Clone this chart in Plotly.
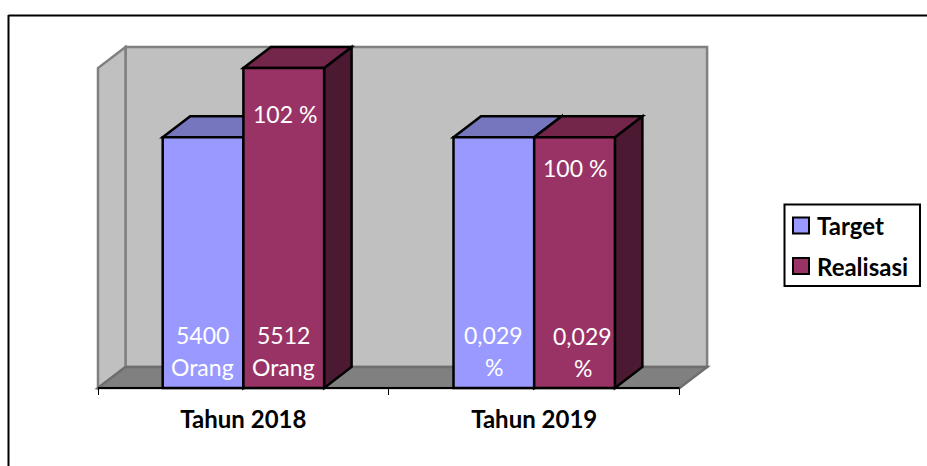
import plotly.graph_objects as go

W, H = 927, 466
categories = ["Tahun 2018", "Tahun 2019"]
series_names = ["Target", "Realisasi"]
target_values = [94, 94]
realisasi_values = [120, 94]
target_labels = [["5400", "Orang"], ["0,029", "%"]]
realisasi_labels = [["5512", "Orang"], ["0,029", "%"]]
percent_labels = ["102 %", "100 %"]
percent_label_y = [102.6, 82.4]

C_T, C_R = "#9999FF", "#993366"
C_T_TOP, C_R_TOP = "#7676BF", "#732649"
C_T_SIDE, C_R_SIDE = "#5C5C99", "#4C1933"
C_WALL, C_FLOOR, C_EDGE = "#C0C0C0", "#808080", "#808080"
FONT = "Lato"

# pixel scale of the chart box
PX_X0, PX_X1 = 98, 679.6
PX_Y0, PX_YMAX = 388, 68
YMAX = 120
ux = (PX_X1 - PX_X0) / len(categories)
uy = (PX_Y0 - PX_YMAX) / YMAX
DX, DY = 27.5 / ux, 21 / uy
BAR_W = 80.7 / ux
PAD = 5

x_range = [-0.5 - PAD / ux, 1.5 + DX + PAD / ux]
y_range = [-PAD / uy, YMAX + DY + PAD / uy]
dom_x = [(PX_X0 - PAD) / W, (PX_X0 - PAD + (x_range[1] - x_range[0]) * ux) / W]
dom_y = [1 - (PX_Y0 + PAD) / H, 1 - (PX_Y0 + PAD - (y_range[1] - y_range[0]) * uy) / H]


def poly(pts, fill, line, lw=2.5):
    path = "M" + "L".join(f"{a},{b}" for a, b in pts) + "Z"
    return dict(type="path", path=path, xref="x", yref="y", layer="below",
                fillcolor=fill, line=dict(color=line, width=lw))


L, R = -0.5, 1.5
shapes = [
    # outer frame
    dict(type="line", xref="paper", yref="paper", x0=8.5 / W, x1=8.5 / W, y0=0, y1=1 - 15 / H,
         line=dict(color="black", width=2)),
    dict(type="line", xref="paper", yref="paper", x0=8.5 / W, x1=1, y0=1 - 15.5 / H, y1=1 - 15.5 / H,
         line=dict(color="black", width=2)),
    # walls and floor
    poly([(L + DX, DY), (R + DX, DY), (R + DX, YMAX + DY), (L + DX, YMAX + DY)], C_WALL, C_EDGE),
    poly([(L, 0), (L + DX, DY), (L + DX, YMAX + DY), (L, YMAX)], C_WALL, C_EDGE),
    poly([(L, 0), (R, 0), (R + DX, DY), (L + DX, DY)], C_FLOOR, "#6E6E6E"),
    dict(type="line", xref="x", yref="y", x0=L, x1=R, y0=0, y1=0, layer="below",
         line=dict(color="black", width=2)),
]

# depth faces of the bars, derived from the data
for i in range(len(categories)):
    for k, (vals, top, side) in enumerate([(target_values, C_T_TOP, C_T_SIDE),
                                           (realisasi_values, C_R_TOP, C_R_SIDE)]):
        x0 = i - BAR_W + k * BAR_W
        x1 = x0 + BAR_W
        v = vals[i]
        shapes.append(poly([(x1, 0), (x1 + DX, DY), (x1 + DX, v + DY), (x1, v)], side, "black"))
        shapes.append(poly([(x0, v), (x1, v), (x1 + DX, v + DY), (x0 + DX, v + DY)], top, "black"))

fig = go.Figure()
for name, vals, col in [(series_names[0], target_values, C_T), (series_names[1], realisasi_values, C_R)]:
    fig.add_trace(go.Bar(name=name, x=list(range(len(categories))), y=vals, marker_color=col,
                         marker_line=dict(color="black", width=2.5), showlegend=False,
                         hoverinfo="skip"))

annotations = []
LINE_PX = 32
for i in range(len(categories)):
    for k, lines in enumerate([target_labels[i], realisasi_labels[i]]):
        is_shifted = i == 1 and k == 1
        shift = 8 if is_shifted else (-1 if i == 0 and k == 0 else 0)
        base_px = 20 if is_shifted else 21
        cx = i - BAR_W / 2 + k * BAR_W
        for j, txt in enumerate(lines):
            annotations.append(dict(text=txt, x=cx, y=(base_px + (len(lines) - 1 - j) * LINE_PX) / uy,
                                    xref="x", yref="y", xshift=shift, showarrow=False,
                                    font=dict(family=FONT, size=23, color="white")))
    annotations.append(dict(text=percent_labels[i], x=i + BAR_W / 2 + 0.003, y=percent_label_y[i],
                            xref="x", yref="y", showarrow=False,
                            font=dict(family=FONT, size=23, color="white")))

# legend box
LEG = [784.5, 204.5, 920, 286]
shapes.append(dict(type="rect", xref="paper", yref="paper", x0=LEG[0] / W, x1=LEG[2] / W,
                   y0=1 - LEG[3] / H, y1=1 - LEG[1] / H, fillcolor="white",
                   line=dict(color="black", width=2), layer="above"))
for name, col, yc in [(series_names[0], C_T, 225.5), (series_names[1], C_R, 266)]:
    shapes.append(dict(type="rect", xref="paper", yref="paper", x0=793 / W, x1=809 / W,
                       y0=1 - (yc + 8) / H, y1=1 - (yc - 8) / H, fillcolor=col,
                       line=dict(color="black", width=2), layer="above"))
    annotations.append(dict(text=f"<b>{name}</b>", x=815 / W, y=1 - yc / H, xref="paper", yref="paper",
                            xanchor="left", yanchor="middle", showarrow=False,
                            font=dict(family=FONT, size=24, color="black")))

fig.update_layout(
    width=W, height=H, margin=dict(l=0, r=0, t=0, b=0), autosize=False,
    paper_bgcolor="white", plot_bgcolor="rgba(0,0,0,0)",
    barmode="group", bargap=1 - 2 * BAR_W, bargroupgap=0,
    shapes=shapes, annotations=annotations, showlegend=False,
    xaxis=dict(domain=dom_x, range=x_range, anchor="free", position=1 - PX_Y0 / H,
               tickmode="array", tickvals=list(range(len(categories))),
               ticktext=[f"<b>{c}</b>" for c in categories],
               ticks="outside", ticklen=10, tickcolor="rgba(0,0,0,0)", showgrid=False,
               zeroline=False, showline=False,
               tickfont=dict(family=FONT, size=24, color="black"),
               minor=dict(tickmode="array", tickvals=[-0.5, 0.5, 1.5], ticks="outside", ticklen=6,
                          tickwidth=1, tickcolor="black", showgrid=False)),
    yaxis=dict(domain=dom_y, range=y_range, visible=False, showgrid=False, zeroline=False),
)
fig.write_html("out.html", config={"displayModeBar": False},
               post_script="document.body.style.margin='0';document.body.style.overflow='hidden';")
